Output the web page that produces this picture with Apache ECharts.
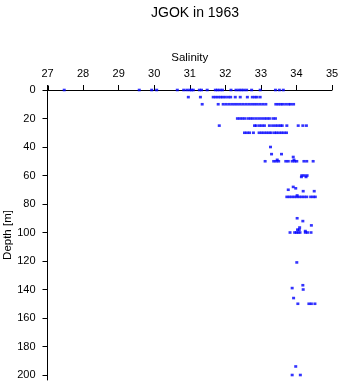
<!DOCTYPE html>
<html>
<head>
<meta charset="utf-8">
<script src="https://cdn.jsdelivr.net/npm/echarts@6/dist/echarts.min.js"></script>
<style>html,body{margin:0;padding:0;background:#fff;}#c{width:341px;height:384px;}</style>
</head>
<body>
<div id="c"></div>
<script>
// Salinity readings grouped by depth level (depth in m, salinity values)
const depth0 = [27.47, 29.58, 29.93, 30.07, 30.65, 30.83, 30.92, 31.0, 31.05, 31.10, 31.27, 31.33, 31.49, 31.72, 31.78, 31.85, 31.92, 32.16, 32.30, 32.38, 32.45, 32.52, 32.60, 32.74, 32.98, 33.41, 33.52, 33.63];
const depth5 = [30.96, 31.30, 31.66, 31.73, 31.80, 31.87, 31.93, 32.00, 32.08, 32.15, 32.28, 32.42, 32.62, 32.76, 32.83, 32.89, 32.98];
const depth10 = [31.35, 31.80, 31.94, 32.02, 32.10, 32.18, 32.26, 32.34, 32.42, 32.50, 32.58, 32.66, 32.74, 32.82, 32.90, 32.98, 33.06, 33.14, 33.42, 33.49, 33.56, 33.62, 33.70, 33.78, 33.84, 33.92];
const depth20 = [32.34, 32.41, 32.48, 32.55, 32.64, 32.71, 32.78, 32.86, 32.94, 33.02, 33.10, 33.17, 33.24, 33.34, 33.41];
const depth25 = [31.83, 32.82, 32.87, 32.96, 33.03, 33.10, 33.24, 33.33, 33.41, 33.48, 33.55, 33.60, 33.73, 34.05, 34.18, 34.28];
const depth30 = [32.54, 32.61, 32.68, 32.79, 32.95, 33.02, 33.09, 33.16, 33.23, 33.29, 33.38, 33.44, 33.51, 33.58, 33.65, 33.72];
const depth50 = [33.12, 33.36, 33.43, 33.50, 33.70, 33.77, 33.88, 33.95, 34.01, 34.21, 34.29, 34.47];
const depth60 = [34.15, 34.22, 34.30];
const depth75 = [33.73, 33.80, 33.87, 33.94, 34.01, 34.08, 34.15, 34.22, 34.29, 34.40, 34.47, 34.53];
const depth100 = [33.82, 33.95, 34.00, 34.05, 34.10, 34.25, 34.31, 34.41];
const depth150 = [34.04, 34.35, 34.42, 34.52];
// Scattered individual readings: [salinity, depth]
const otherPoints = [
  [33.27, 40], [33.30, 45], [33.58, 45], [33.91, 47], [33.46, 49], [33.93, 49],
  [34.14, 61], [34.27, 61],
  [33.91, 68], [33.98, 69], [33.77, 70], [34.19, 71], [34.50, 71], [34.02, 74],
  [34.02, 90], [34.18, 92], [34.42, 95], [34.09, 96.5], [34.03, 98], [34.08, 98], [34.25, 99],
  [34.01, 121], [34.18, 137], [33.88, 139], [34.19, 140], [33.92, 146],
  [33.98, 194], [33.88, 200], [34.11, 200]
];
const levels = [[0, depth0], [5, depth5], [10, depth10], [20, depth20], [25, depth25], [30, depth30], [50, depth50], [60, depth60], [75, depth75], [100, depth100], [150, depth150]];
const yTicks = [0, 20, 40, 60, 80, 100, 120, 140, 160, 180, 200];

const data = [];
levels.forEach(([d, arr]) => arr.forEach(s => data.push([s, d])));
otherPoints.forEach(p => data.push(p));

const font = 'Liberation Sans';
const chart = echarts.init(document.getElementById('c'), null, {renderer: 'canvas'});
chart.setOption({
  animation: false,
  backgroundColor: '#fff',
  title: {
    text: 'JGOK in 1963', left: 190, top: 1, textAlign: 'center',
    textStyle: {fontFamily: font, fontSize: 14, fontWeight: 'normal', color: '#000'}
  },
  grid: {left: 47.5, right: 9, top: 90, bottom: 4, containLabel: false, outerBoundsMode: 'none'},
  xAxis: {
    type: 'value', position: 'top', min: 27, max: 35, interval: 1,
    name: 'Salinity', nameLocation: 'middle', nameGap: 26, nameMoveOverlap: false,
    nameTextStyle: {fontFamily: font, fontSize: 11.5, color: '#000'},
    axisLine: {onZero: false, lineStyle: {color: '#000', width: 1}},
    axisTick: {show: true, length: 5, lineStyle: {color: '#000'}},
    axisLabel: {margin: 11, color: '#000', fontFamily: font, fontSize: 11, showMinLabel: true, showMaxLabel: true},
    splitLine: {show: false}
  },
  yAxis: {
    type: 'value', inverse: true, min: 0, max: 203.5,
    name: 'Depth [m]', nameLocation: 'middle', nameGap: 34, nameRotate: 90, nameMoveOverlap: false,
    nameTextStyle: {fontFamily: font, fontSize: 11.5, color: '#000'},
    axisLine: {onZero: false, lineStyle: {color: '#000', width: 1}},
    axisTick: {show: true, length: 5, lineStyle: {color: '#000'}, customValues: yTicks},
    axisLabel: {margin: 12, color: '#000', fontFamily: font, fontSize: 11, customValues: yTicks},
    splitLine: {show: false}
  },
  series: [{
    type: 'scatter', data: data, symbol: 'rect', symbolSize: [3, 2.6],
    itemStyle: {color: '#0000ff'}
  }]
});
// small extensions of both axis lines beyond their shared origin
const y0 = Math.round(chart.convertToPixel({yAxisIndex: 0}, 0)) + 0.5;
const x0 = Math.round(chart.convertToPixel({xAxisIndex: 0}, 27)) + 0.5;
chart.setOption({
  graphic: [
    {type: 'line', shape: {x1: x0 - 5, y1: y0, x2: x0, y2: y0}, style: {stroke: '#000', lineWidth: 1}, silent: true},
    {type: 'line', shape: {x1: x0, y1: y0 - 5, x2: x0, y2: y0}, style: {stroke: '#000', lineWidth: 1}, silent: true}
  ]
});
</script>
</body>
</html>
